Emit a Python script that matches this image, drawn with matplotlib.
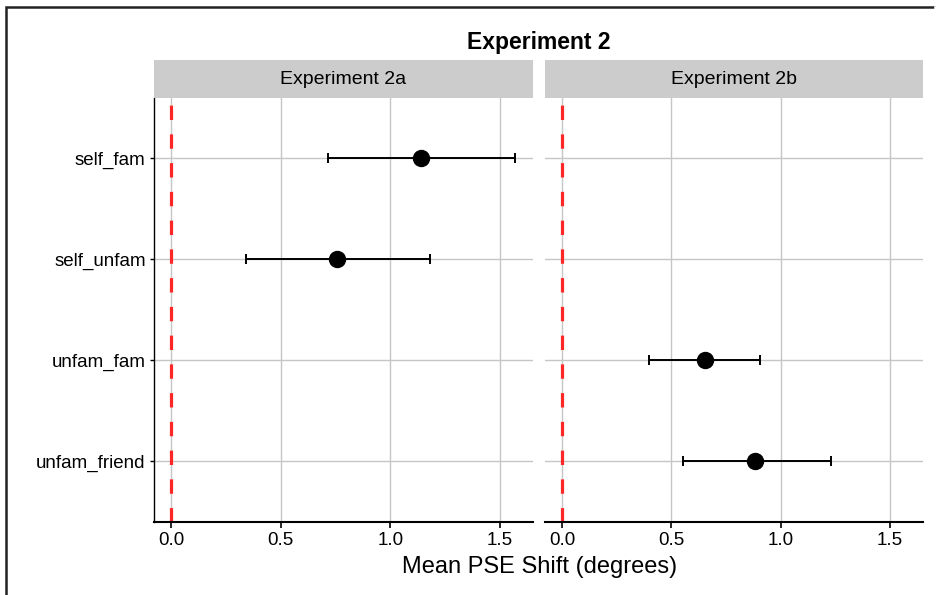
import numpy as np
import matplotlib.pyplot as plt
from matplotlib.patches import Rectangle
from matplotlib.lines import Line2D

plt.rcParams['font.family'] = ['Liberation Sans', 'DejaVu Sans']

conditions = ['self_fam', 'self_unfam', 'unfam_fam', 'unfam_friend']
panels = ['Experiment 2a', 'Experiment 2b']

# experiment 2a
cond_a = ['self_fam', 'self_unfam']
mean_a = [1.138, 0.756]
lo_a = [0.714, 0.339]
hi_a = [1.571, 1.183]

# experiment 2b
cond_b = ['unfam_fam', 'unfam_friend']
mean_b = [0.655, 0.881]
lo_b = [0.399, 0.551]
hi_b = [0.906, 1.229]

xticks = [0.0, 0.5, 1.0, 1.5]

fig = plt.figure(figsize=(9.37, 5.95), dpi=100)
W, H = 937, 595

def fx(px):
    return px / W

def fy(py):
    return 1 - py / H

bot, top = fy(522), fy(97.7)
ax1 = fig.add_axes([fx(154), bot, fx(532.7) - fx(154), top - bot])
ax2 = fig.add_axes([fx(545), bot, fx(922.7) - fx(545), top - bot])

ypos = {c: i for i, c in enumerate(conditions)}
data = [(ax1, cond_a, mean_a, lo_a, hi_a), (ax2, cond_b, mean_b, lo_b, hi_b)]

allhi = max(hi_a + hi_b)
span = allhi - 0
xlim = (0 - 0.05 * span, allhi + 0.05 * span)

for ax, cond, m, lo, hi in data:
    y = [ypos[c] for c in cond]
    m = np.array(m)
    err = [m - np.array(lo), np.array(hi) - m]
    ax.grid(True, color='#c6c6c6', lw=1.0)
    ax.set_axisbelow(True)
    ax.axvline(0, color='#ff2626', lw=2.3, dashes=(4.5, 4.5), zorder=2)
    ax.errorbar(m, y, xerr=err, fmt='o', color='black', ms=11.5,
                elinewidth=1.4, capsize=3.6, capthick=1.4, zorder=3)
    ax.set_xlim(xlim)
    ax.set_ylim(len(conditions) - 1 + 0.6, -0.6)
    ax.set_yticks(range(len(conditions)))
    ax.set_xticks(xticks)
    ax.set_xticklabels(['%.1f' % t for t in xticks])
    for s in ['top', 'right']:
        ax.spines[s].set_visible(False)
    ax.spines['bottom'].set_linewidth(1.5)
    ax.tick_params(axis='x', length=4, width=1.2, labelsize=13.5, pad=3,
                   colors='black')
    ax.tick_params(axis='y', length=3, width=1.0, labelsize=13.5, pad=3)

ax1.set_yticklabels(conditions)
ax1.spines['left'].set_linewidth(1.0)
ax2.spines['left'].set_visible(False)
ax2.tick_params(axis='y', length=0, labelleft=False)

# facet strips
for (l, r), name in zip([(154, 532.7), (545, 922.7)], panels):
    fig.patches.append(Rectangle((fx(l), fy(97.7)), fx(r) - fx(l),
                                 fy(60) - fy(97.7), transform=fig.transFigure,
                                 facecolor='#cccccc', edgecolor='none'))
    fig.text(fx((l + r) / 2), fy(79), name, ha='center', va='center',
             fontsize=14)

fig.text(fx(539), fy(42), 'Experiment 2', ha='center', va='center',
         fontsize=16.5, fontweight='bold')
fig.text(fx(540), fy(567), 'Mean PSE Shift (degrees)', ha='center',
         va='center', fontsize=17)

# outer frame: only top and left edges show
fig.lines.append(Line2D([fx(6), fx(6), 1.0], [0.0, fy(7), fy(7)],
                        transform=fig.transFigure, color='#222222', lw=1.8,
                        solid_joinstyle='miter'))
# keep the right edge clean
fig.lines.append(Line2D([1.0, 1.0], [0.0, fy(9)], transform=fig.transFigure,
                        color='white', lw=4, zorder=10))

plt.savefig('out.png', dpi=100)
